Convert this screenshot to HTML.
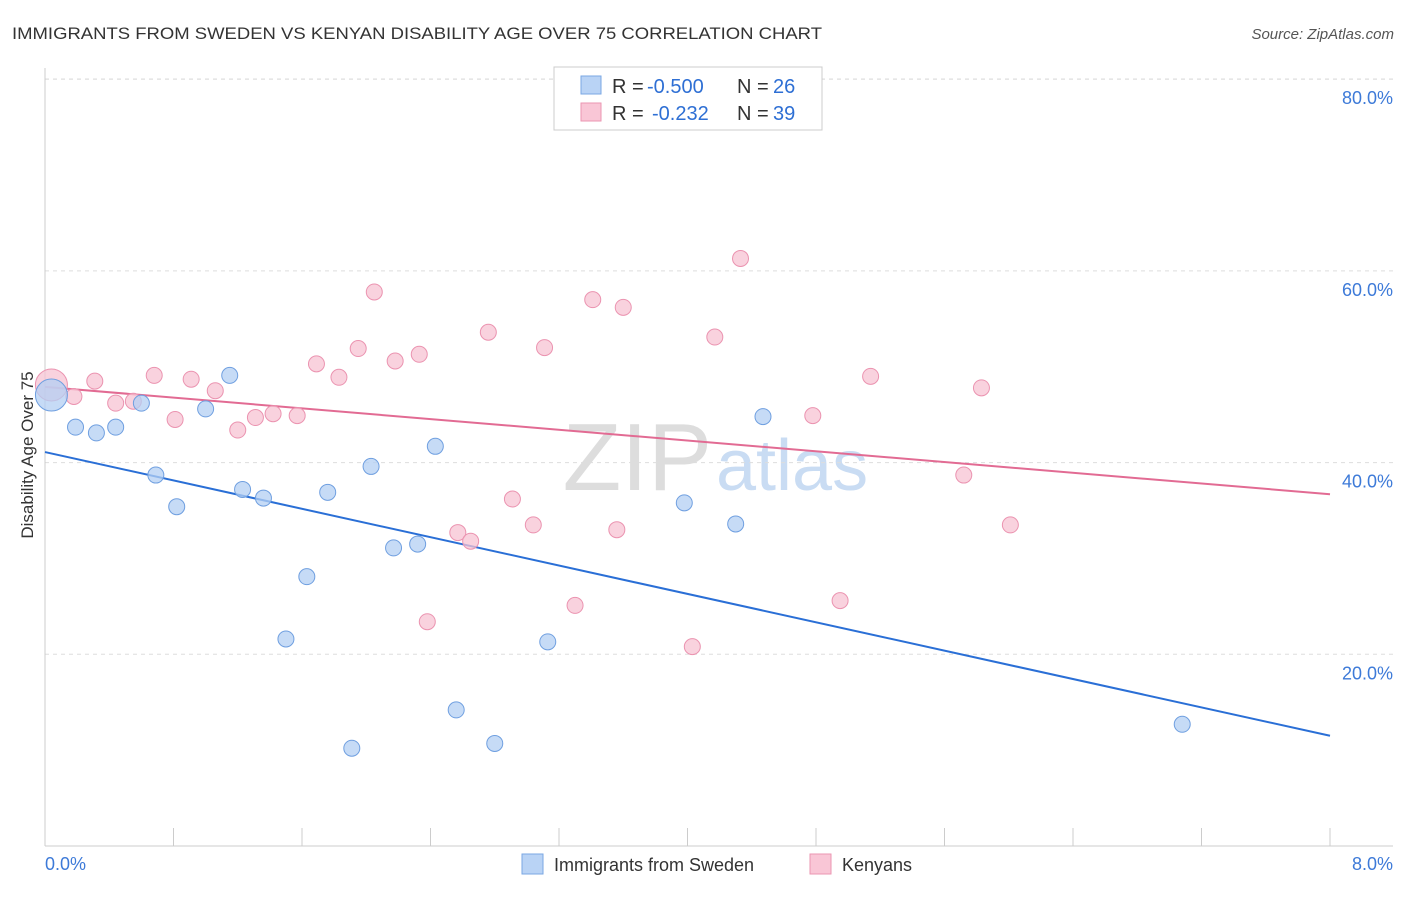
<!DOCTYPE html>
<html><head><meta charset="utf-8"><style>
body{margin:0;background:#fff;font-family:"Liberation Sans",sans-serif;}
svg text{font-family:"Liberation Sans",sans-serif;}
</style></head><body>
<svg id="c" width="1406" height="892">
<text x="12" y="39" font-size="17" fill="#333" textLength="810" lengthAdjust="spacingAndGlyphs">IMMIGRANTS FROM SWEDEN VS KENYAN DISABILITY AGE OVER 75 CORRELATION CHART</text>
<text x="1394" y="39" font-size="15" fill="#555" font-style="italic" text-anchor="end">Source: ZipAtlas.com</text>
<text x="712" y="490" font-size="96" fill="#ddd" text-anchor="end">ZIP</text>
<text x="716" y="490" font-size="72" fill="#c9dcf3">atlas</text>
<g id="grid"></g><g id="axes"></g><g id="lines"></g><g id="pts"></g>
<text x="33" y="455" font-size="17" fill="#333" text-anchor="middle" transform="rotate(-90 33 455)">Disability Age Over 75</text>
<g>
<rect x="554" y="67" width="268" height="63" fill="#fff" stroke="#ccc"/>
<rect x="581" y="76" width="20" height="18" fill="#b9d3f5" stroke="#7aa7e3"/>
<rect x="581" y="103" width="20" height="18" fill="#f9c6d6" stroke="#eb96b2"/>
<text x="612" y="93" font-size="20" fill="#333">R =</text>
<text x="647" y="93" font-size="20" fill="#2e6fd4">-0.500</text>
<text x="737" y="93" font-size="20" fill="#333">N =</text>
<text x="773" y="93" font-size="20" fill="#2e6fd4">26</text>
<text x="612" y="120" font-size="20" fill="#333">R =</text>
<text x="652" y="120" font-size="20" fill="#2e6fd4">-0.232</text>
<text x="737" y="120" font-size="20" fill="#333">N =</text>
<text x="773" y="120" font-size="20" fill="#2e6fd4">39</text>
</g>
<g>
<rect x="522" y="854" width="21" height="20" fill="#b9d3f5" stroke="#7aa7e3"/>
<text x="554" y="871" font-size="18" fill="#333">Immigrants from Sweden</text>
<rect x="810" y="854" width="21" height="20" fill="#f9c6d6" stroke="#eb96b2"/>
<text x="842" y="871" font-size="18" fill="#333">Kenyans</text>
</g>
</svg>
<script>
const yTicks=[20,40,60,80];
const yTickLabels=["20.0%","40.0%","60.0%","80.0%"];
const xTickLabels=["0.0%","8.0%"];
const swedenX=[0.04,0.19,0.32,0.44,0.60,0.69,0.82,1.00,1.15,1.23,1.36,1.50,1.63,1.76,1.91,2.03,2.17,2.32,2.43,2.56,2.80,3.13,3.98,4.30,4.47,7.08];
const swedenY=[47.05,43.7,43.1,43.7,46.2,38.7,35.4,45.6,49.1,37.2,36.3,21.6,28.1,36.9,10.2,39.6,31.1,31.5,41.7,14.2,10.7,21.3,35.8,33.6,44.8,12.7];
const kenyaX=[0.04,0.18,0.31,0.44,0.55,0.68,0.81,0.91,1.06,1.20,1.31,1.42,1.57,1.69,1.83,1.95,2.05,2.18,2.33,2.38,2.57,2.65,2.76,2.91,3.04,3.11,3.30,3.41,3.56,3.60,4.03,4.17,4.33,4.78,4.95,5.14,5.72,5.83,6.01];
const kenyaY=[48.1,46.9,48.5,46.2,46.4,49.1,44.5,48.7,47.5,43.4,44.7,45.1,44.9,50.3,48.9,51.9,57.8,50.6,51.3,23.4,32.7,31.8,53.6,36.2,33.5,52.0,25.1,57.0,33.0,56.2,20.8,53.1,61.3,44.9,25.6,49.0,38.7,47.8,33.5];
const swedenTrend=[41.1,11.5];
const kenyaTrend=[47.9,36.7];
const NS="http://www.w3.org/2000/svg";
const sx=v=>45+v/8*1285, sy=v=>846-v/20*191.7;
function mk(tag,attrs,parent){const e=document.createElementNS(NS,tag);for(const k in attrs)e.setAttribute(k,attrs[k]);document.getElementById(parent).appendChild(e);return e;}
yTicks.forEach((t,i)=>{
 const g=mk('line',{x1:45,x2:1393,y1:sy(t),y2:sy(t),stroke:'#ddd','stroke-dasharray':'4,4'},'grid');
 
 
 const l=mk('text',{x:1393,y:sy(t)+25,'font-size':18,fill:'#3d7ad8','text-anchor':'end'},'grid');l.textContent=yTickLabels[i];
 
 
});
const topLine=mk('line',{x1:45,x2:1393,y1:79,y2:79,stroke:'#ddd','stroke-dasharray':'4,4'},'grid');


const ya=mk('line',{x1:45,x2:45,y1:68,y2:846,stroke:'#ccc'},'axes');


const xa=mk('line',{x1:45,x2:1393,y1:846,y2:846,stroke:'#ccc'},'axes');


for(let i=0;i<=10;i++){const t=mk('line',{x1:sx(i*0.8),x2:sx(i*0.8),y1:828,y2:846,stroke:'#ccc'},'axes');
 
 }
[[0,'start',45],[8,'end',1393]].forEach((d,i)=>{const t=mk('text',{x:d[2],y:870,'font-size':18,fill:'#3d7ad8','text-anchor':d[1]},'axes');t.textContent=xTickLabels[i];
 
 });
const bl=mk('line',{x1:sx(0),x2:sx(8),y1:sy(swedenTrend[0]),y2:sy(swedenTrend[1]),stroke:'#2a6fd6','stroke-width':2},'lines');


const pl=mk('line',{x1:sx(0),x2:sx(8),y1:sy(kenyaTrend[0]),y2:sy(kenyaTrend[1]),stroke:'#e26b93','stroke-width':2},'lines');


kenyaX.forEach((x,i)=>{const c=mk('circle',{cx:sx(x),cy:sy(kenyaY[i]),r:i==0?16:8,fill:'#f7c3d3','fill-opacity':0.75,stroke:'#eb93b0'},'pts');
 
 });
swedenX.forEach((x,i)=>{const c=mk('circle',{cx:sx(x),cy:sy(swedenY[i]),r:i==0?16:8,fill:'#b3cff3','fill-opacity':0.75,stroke:'#6f9fe0'},'pts');
 
 });
</script>
</body></html>
